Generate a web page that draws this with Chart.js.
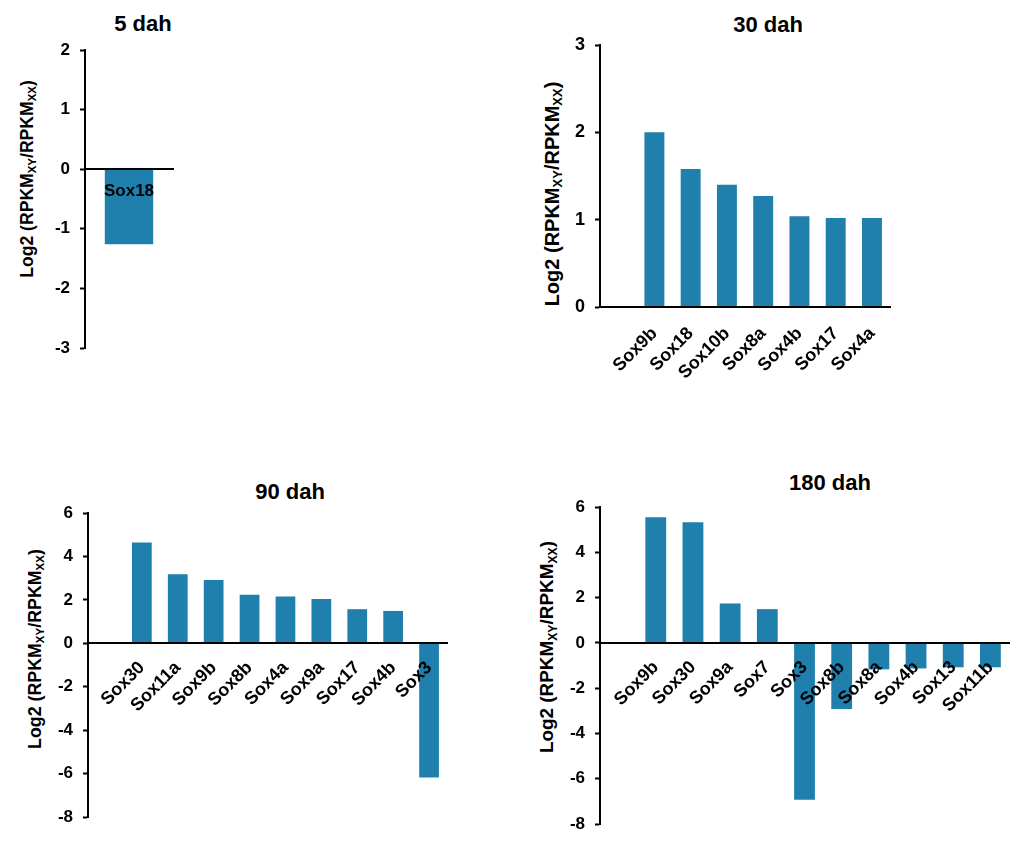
<!DOCTYPE html>
<html>
<head>
<meta charset="utf-8">
<script src="https://cdn.jsdelivr.net/npm/chart.js@4"></script>
<style>
  html, body { margin: 0; padding: 0; background: #fff; }
  body { width: 1024px; height: 844px; position: relative; overflow: hidden;
         font-family: "Liberation Sans", Arial, sans-serif; font-weight: bold; color: #000; }
  .box { position: absolute; }
  .title { position: absolute; transform: translate(-50%, -50%); font-size: 22px; white-space: nowrap; }
  .ytitle { position: absolute; transform: translate(-50%, -50%) rotate(-90deg); white-space: nowrap; }
  .ytitle sub { font-size: 0.65em; vertical-align: -0.3em; line-height: 0; }
</style>
</head>
<body>

<div class="title" style="left:143px; top:24px;">5 dah</div>
<div class="title" style="left:768px; top:25px;">30 dah</div>
<div class="title" style="left:290px; top:492px;">90 dah</div>
<div class="title" style="left:830px; top:483px;">180 dah</div>

<div class="ytitle" style="left:27px; top:179px; font-size:17.6px;">Log2 (RPKM<sub>XY</sub>/RPKM<sub>XX</sub>)</div>
<div class="ytitle" style="left:552px; top:194px; font-size:20px;">Log2 (RPKM<sub>XY</sub>/RPKM<sub>XX</sub>)</div>
<div class="ytitle" style="left:35px; top:649px; font-size:17.8px;">Log2 (RPKM<sub>XY</sub>/RPKM<sub>XX</sub>)</div>
<div class="ytitle" style="left:547px; top:647px; font-size:18.9px;">Log2 (RPKM<sub>XY</sub>/RPKM<sub>XX</sub>)</div>

<div class="box" id="b5"><canvas id="c5"></canvas></div>
<div class="box" id="b30"><canvas id="c30"></canvas></div>
<div class="box" id="b90"><canvas id="c90"></canvas></div>
<div class="box" id="b180"><canvas id="c180"></canvas></div>

<script>
// values: log2(RPKM XY / RPKM XX)
const genes5 = ['Sox18'];
const values5 = [-1.26];

const genes30 = ['Sox9b', 'Sox18', 'Sox10b', 'Sox8a', 'Sox4b', 'Sox17', 'Sox4a'];
const values30 = [2.0, 1.58, 1.40, 1.27, 1.04, 1.02, 1.02];

const genes90 = ['Sox30', 'Sox11a', 'Sox9b', 'Sox8b', 'Sox4a', 'Sox9a', 'Sox17', 'Sox4b', 'Sox3'];
const values90 = [4.64, 3.18, 2.92, 2.24, 2.15, 2.04, 1.57, 1.49, -6.18];

const genes180 = ['Sox9b', 'Sox30', 'Sox9a', 'Sox7', 'Sox3', 'Sox8b', 'Sox8a', 'Sox4b', 'Sox13', 'Sox11b'];
const values180 = [5.55, 5.33, 1.74, 1.49, -6.93, -2.92, -1.17, -1.13, -1.08, -1.08];

// y axis [min, max, step]
const yRange5 = [-3, 2, 1];
const yRange30 = [0, 3, 1];
const yRange90 = [-8, 6, 2];
const yRange180 = [-8, 6, 2];

const BAR = '#2080ad';
const FONT = '"Liberation Sans", Arial, sans-serif';
const Y_AXIS_W = 60;
const PAD_TOP = 28;   // must exceed half a tick label + tick padding
const PAD_RIGHT = 12;

function makeChart(id, plot, labels, data, yRange, opts) {
    const box = document.getElementById('b' + id);
    const w = plot.right - plot.left + Y_AXIS_W + PAD_RIGHT;
    const h = plot.bottom - plot.top + PAD_TOP + opts.padBottom;
    box.style.left = (plot.left - Y_AXIS_W) + 'px';
    box.style.top = (plot.top - PAD_TOP) + 'px';
    box.style.width = w + 'px';
    box.style.height = h + 'px';

    return new Chart(document.getElementById('c' + id), {
        type: 'bar',
        data: {
            labels,
            datasets: [{
                data,
                backgroundColor: BAR,
                borderWidth: 0,
                categoryPercentage: 1,
                barPercentage: opts.barPct,
            }],
        },
        options: {
            responsive: true,
            maintainAspectRatio: false,
            animation: false,
            layout: { padding: { left: 0, top: PAD_TOP, right: PAD_RIGHT, bottom: opts.padBottom } },
            plugins: { legend: { display: false }, tooltip: { enabled: false } },
            scales: {
                x: {
                    position: { y: 0 },
                    grid: { display: false, drawTicks: false },
                    border: { display: true, color: '#000', width: 2, z: 1 },
                    ticks: {
                        z: 1, // labels sit on top of the bars
                        autoSkip: false,
                        color: '#000',
                        font: { family: FONT, size: opts.xFont, weight: 'bold' },
                        minRotation: opts.rot,
                        maxRotation: opts.rot,
                        padding: opts.xPad,
                    },
                    afterFit: (s) => { s.height = 0; },
                },
                y: {
                    min: yRange[0],
                    max: yRange[1],
                    grid: { drawOnChartArea: false, drawTicks: true, tickLength: 5, tickColor: '#000', tickWidth: 2 },
                    border: { display: true, color: '#000', width: 2 },
                    ticks: {
                        stepSize: yRange[2],
                        color: '#000',
                        padding: 10,
                        font: { family: FONT, size: opts.yFont, weight: 'bold' },
                    },
                    afterFit: (s) => { s.width = Y_AXIS_W; },
                },
            },
        },
    });
}

makeChart('5', { left: 85, right: 173, top: 50, bottom: 348 }, genes5, values5, yRange5,
    { padBottom: 28, barPct: 0.55, xFont: 17, yFont: 17, rot: 0, xPad: 12 });

makeChart('30', { left: 600, right: 892, top: 45, bottom: 307 }, ['', ...genes30], [null, ...values30], yRange30,
    { padBottom: 90, barPct: 0.55, xFont: 18, yFont: 18, rot: 45, xPad: 16 });

makeChart('90', { left: 88, right: 447, top: 513, bottom: 817 }, ['', ...genes90], [null, ...values90], yRange90,
    { padBottom: 28, barPct: 0.55, xFont: 18, yFont: 17, rot: 45, xPad: 14 });

makeChart('180', { left: 600, right: 1009, top: 507, bottom: 824 }, ['', ...genes180], [null, ...values180], yRange180,
    { padBottom: 28, barPct: 0.56, xFont: 18, yFont: 17, rot: 45, xPad: 14 });
</script>
</body>
</html>
